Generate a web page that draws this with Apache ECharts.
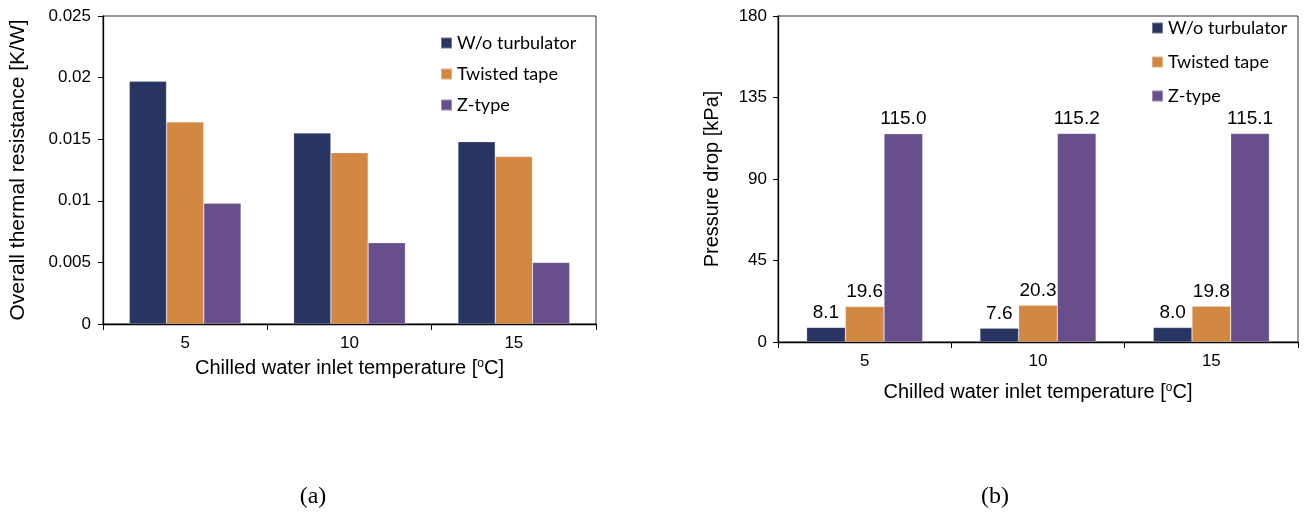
<!DOCTYPE html>
<html>
<head>
<meta charset="utf-8">
<script src="https://cdn.jsdelivr.net/npm/echarts@6/dist/echarts.min.js"></script>
<style>html,body{margin:0;padding:0;background:#fff;}#c{width:1306px;height:516px;}</style>
</head>
<body>
<div id="c"></div>
<script>
const categories = ['5', '10', '15'];
const seriesNames = ['W/o turbulator', 'Twisted tape', 'Z-type'];
const colors = ['#283562', '#D38841', '#684F8C'];
// (a) overall thermal resistance [K/W]
const resWo = [0.0197, 0.0155, 0.0148];
const resTwisted = [0.0164, 0.0139, 0.0136];
const resZ = [0.0098, 0.0066, 0.0050];
// (b) pressure drop [kPa]
const dpWo = [8.1, 7.6, 8.0];
const dpTwisted = [19.6, 20.3, 19.8];
const dpZ = [115.0, 115.2, 115.1];
const panelLabels = ['(a)', '(b)'];

const chart = echarts.init(document.getElementById('c'));
const font = 'Liberation Sans';
const supRich = { sup: { fontSize: 12, fontFamily: font, color: '#000', padding: [0, 0, 9, 0] } };
function xAxis(gi, nameGap) {
  return {
    type: 'category', gridIndex: gi, data: categories,
    axisLine: { lineStyle: { color: '#000', width: 1.3 } },
    axisTick: { show: true, length: 6, lineStyle: { color: '#000' } },
    axisLabel: { color: '#000', fontSize: 17, fontFamily: font, margin: 11 },
    name: 'Chilled water inlet temperature [{sup|o}C]', nameLocation: 'middle', nameGap: nameGap,
    nameTextStyle: { color: '#000', fontSize: 20, fontFamily: font, rich: supRich }
  };
}
function yAxis(gi, max, interval, name, nameGap, fs, nfs, margin) {
  return {
    type: 'value', gridIndex: gi, min: 0, max: max, interval: interval,
    axisLine: { show: true, lineStyle: { color: '#000', width: 1.3 } },
    axisTick: { show: true, length: 5, lineStyle: { color: '#000' } },
    splitLine: { show: false },
    axisLabel: { color: '#000', fontSize: fs, fontFamily: font, margin: margin },
    name: name, nameLocation: 'middle', nameGap: nameGap,
    nameTextStyle: { color: '#000', fontSize: nfs, fontFamily: font }
  };
}
function bar(name, data, gi, color, gap, labels) {
  const s = {
    name: name, type: 'bar', xAxisIndex: gi, yAxisIndex: gi, data: data,
    barGap: '0%', barCategoryGap: gap,
    itemStyle: { color: color, borderColor: 'rgba(255,255,255,0.35)', borderWidth: 0.6 }
  };
  if (labels) {
    s.label = { show: true, position: 'top', distance: 5, color: '#000', fontSize: 19, fontFamily: font,
      formatter: p => p.value.toFixed(1) };
  }
  return s;
}
const legendBase = {
  orient: 'vertical', icon: 'rect', itemWidth: 11, itemHeight: 11,
  data: seriesNames,
  textStyle: { color: '#000', fontSize: 18, fontFamily: 'Lato' }
};
chart.setOption({
  backgroundColor: '#fff',
  animation: false,
  color: colors,
  title: [
    { text: panelLabels[0], left: 308, top: 480, textAlign: 'center', textStyle: { fontFamily: 'Liberation Serif', fontSize: 24, fontWeight: 'normal', color: '#000' } },
    { text: panelLabels[1], left: 990, top: 480, textAlign: 'center', textStyle: { fontFamily: 'Liberation Serif', fontSize: 24, fontWeight: 'normal', color: '#000' } }
  ],
  grid: [
    { left: 103, top: 16, width: 493, height: 308, show: true, borderColor: '#333', borderWidth: 1, backgroundColor: 'transparent' },
    { left: 778, top: 16, width: 520, height: 326, show: true, borderColor: '#333', borderWidth: 1, backgroundColor: 'transparent' }
  ],
  legend: [
    Object.assign({}, legendBase, { left: 435, top: 29, itemGap: 13 }),
    Object.assign({}, legendBase, { left: 1146, top: 14, itemGap: 16 })
  ],
  xAxis: [xAxis(0, 34), xAxis(1, 40)],
  yAxis: [
    yAxis(0, 0.025, 0.005, 'Overall thermal resistance [K/W]', 74, 17, 21, 12),
    yAxis(1, 180, 45, 'Pressure drop [kPa]', 56, 17, 20, 11)
  ],
  series: [
    bar(seriesNames[0], resWo, 0, colors[0], '32%', false),
    bar(seriesNames[1], resTwisted, 0, colors[1], '32%', false),
    bar(seriesNames[2], resZ, 0, colors[2], '32%', false),
    bar(seriesNames[0], dpWo, 1, colors[0], '33%', true),
    bar(seriesNames[1], dpTwisted, 1, colors[1], '33%', true),
    bar(seriesNames[2], dpZ, 1, colors[2], '33%', true)
  ]
});
</script>
</body>
</html>
